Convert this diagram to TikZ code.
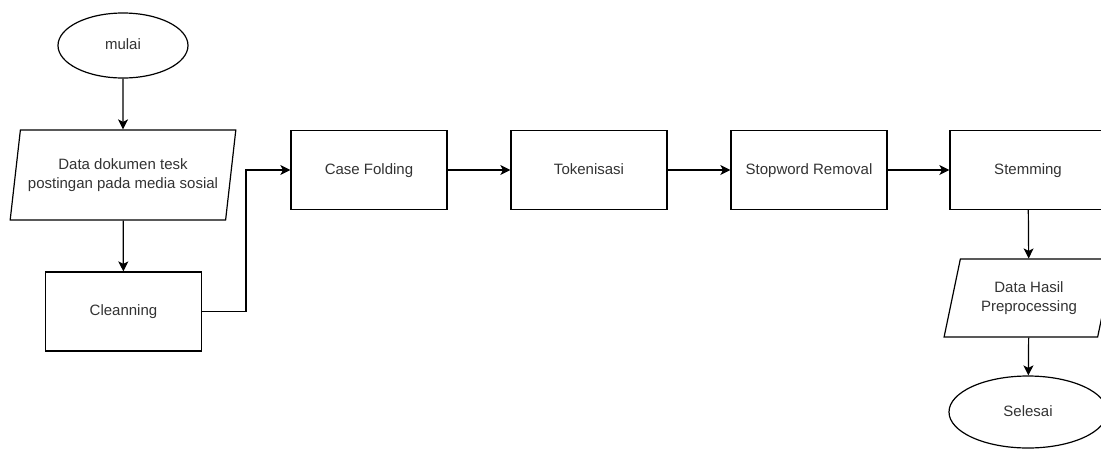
\documentclass[tikz,border=0pt]{standalone}
\usepackage{fontspec}
\setmainfont{Liberation Sans}
\usetikzlibrary{shapes.geometric,arrows.meta}
\definecolor{txt}{HTML}{333333}
\tikzset{
  x=1pt,y=-1pt,
  every node/.style={font=\fontsize{15}{19}\selectfont, text=txt, align=center},
  procbox/.style={draw, line width=1.2pt, minimum width=156pt, minimum height=79pt, inner sep=0pt, text height=11pt, text depth=3pt},
  termbox/.style={draw, ellipse, line width=1.2pt, inner sep=0pt, text height=11pt, text depth=3pt},
  iobox/.style={draw, trapezium, trapezium stretches=true, line width=1.2pt, inner sep=0pt},
  flow/.style={line width=1.2pt, -{Stealth[length=10pt,width=10pt,inset=2.5pt]}}
}
\begin{document}
\begin{tikzpicture}
\clip (0,0) rectangle (1101,448);
\fill[white] (0,0) rectangle (1101,448);
\node[termbox, minimum width=130pt, minimum height=65pt] (mulai) at (123,45.5) {mulai};
\node[iobox, trapezium left angle=74, trapezium right angle=106, minimum width=226pt, minimum height=90pt] (data) at (123,175) {Data dokumen tesk\\postingan pada media sosial};
\node[procbox] (clean) at (123.5,311.5) {Cleanning};
\node[procbox] (case) at (369,170) {Case Folding};
\node[procbox] (token) at (589,170) {Tokenisasi};
\node[procbox] (stop) at (809,170) {Stopword Removal};
\node[procbox] (stem) at (1028,170) {Stemming};
\node[iobox, trapezium left angle=71, trapezium right angle=109, minimum width=170pt, minimum height=78pt] (hasil) at (1029,298) {Data Hasil\\Preprocessing};
\node[termbox, minimum width=158pt, minimum height=72pt] (selesai) at (1028,412) {Selesai};
\coordinate (bend1) at (246,311.5);
\coordinate (bend2) at (246,170);
\draw[flow] (mulai) -- (data);
\draw[flow] (data) -- (clean);
\draw[flow] (clean.east) -- (bend1) -- (bend2) -- (case.west);
\draw[flow] (case) -- (token);
\draw[flow] (token) -- (stop);
\draw[flow] (stop) -- (stem);
\draw[flow] (stem) -- (hasil);
\draw[flow] (hasil) -- (selesai);
\end{tikzpicture}
\end{document}
